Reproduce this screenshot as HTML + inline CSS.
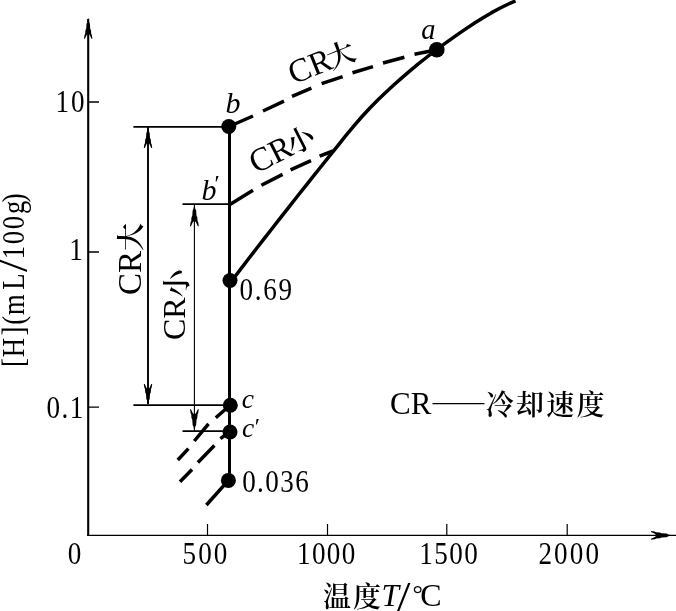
<!DOCTYPE html>
<html lang="zh">
<head>
<meta charset="utf-8">
<title>CR 冷却速度</title>
<style>
html,body{margin:0;padding:0;background:#fff;}
body{width:676px;height:611px;overflow:hidden;}
svg{display:block;}
text{font-family:"Liberation Serif","Noto Serif CJK SC",serif;fill:#000;}
.it{font-style:italic;}
.cj{font-family:"Noto Serif CJK SC","Liberation Serif",serif;font-size:28px;font-weight:600;}
</style>
</head>
<body>
<svg width="676" height="611" viewBox="0 0 676 611">
<rect width="676" height="611" fill="#fff"/>
<g stroke="#000" fill="none" stroke-linecap="butt" stroke-linejoin="miter">
  <!-- axes -->
  <path d="M88.2 19V536" stroke-width="2.1"/>
  <path d="M87.2 535.4H676" stroke-width="1.3"/>
  <!-- y ticks -->
  <path d="M88 102H99M88 252H99M88 407.1H99" stroke-width="1.4"/>
  <!-- x ticks -->
  <path d="M207.5 535V524M327.5 535V524M446.8 535V524M567.2 535V524" stroke-width="1.2"/>
  <!-- vertical line -->
  <path d="M229.5 126V481" stroke-width="3"/>
  <!-- horizontals -->
  <path d="M133.4 126.8H229M182.5 204.1H229M133.4 405.1H229M182.5 431.2H229" stroke-width="1.7"/>
  <!-- dimension lines -->
  <path d="M148 127V404" stroke-width="1.9"/>
  <path d="M194.4 204V431" stroke-width="1.1"/>
  <!-- solid curve -->
  <path d="M232.0 280.5 L240.1 269.9 L248.2 259.3 L256.3 248.8 L264.4 238.4 L272.5 228.0 L280.6 217.6 L288.7 207.3 L296.8 197.0 L304.9 186.8 L313.0 176.6 L321.1 166.5 L329.2 156.4 L337.3 146.3 L345.4 136.2 L353.5 126.4 L361.6 117.0 L369.7 108.2 L377.8 100.0 L385.9 92.3 L394.0 84.8 L402.1 77.6 L410.2 70.7 L418.3 63.9 L426.4 57.5 L434.5 51.2 L442.6 45.1 L450.7 39.3 L458.8 33.6 L466.9 28.1 L475.0 22.8 L483.1 17.7 L491.2 12.9 L499.3 8.5 L507.4 4.5 L515.5 0.9" stroke-width="3.5" stroke-linejoin="round"/>
  <g stroke-width="3.5">
  <!-- dashed CR big -->
  <path d="M229 126.5L253 116M263 111L284 101.2M292 96.4L311.4 88.2M321.6 83.6L342.6 76.6M352.5 72.8L373 66.6M383 63L404.4 57.2M414.5 54.2L437 49.7"/>
  <!-- dashed CR small -->
  <path d="M229.5 204.8L253 190.3M261.4 185.2L282.6 174.4M290.6 169.8L311 160.6M319.6 156.2L333 151"/>
  <!-- lower dashes -->
  <path d="M230 405.2L215.8 417.8M208.5 423.8L194.3 441M188.4 448.6L177.8 460"/>
  <path d="M229.5 432L220.4 438.6M214.4 445.6L197.9 462.4M192 469.5L180 481.8"/>
  <path d="M228.4 480.4L206.4 505"/>
  </g>
</g>
<g fill="#000">
  <!-- arrowheads -->
  <path transform="translate(88.20 17.80) rotate(0)" d="M0.00 0.00 L0.90 4.50 L1.70 6.00 L2.00 11.00 L2.80 12.50 L3.00 16.00 L3.70 17.50 L4.20 21.00 L3.30 21.00 L1.30 16.80 L0.00 16.50 L-1.30 16.80 L-3.30 21.00 L-4.20 21.00 L-3.70 17.50 L-3.00 16.00 L-2.80 12.50 L-2.00 11.00 L-1.70 6.00 L-0.90 4.50Z"/>
  <path transform="translate(673.00 535.40) rotate(90)" d="M0.00 0.00 L0.94 4.71 L1.78 6.29 L2.10 11.52 L2.93 13.10 L3.14 16.76 L3.88 18.33 L4.40 22.00 L3.46 22.00 L1.36 17.60 L0.00 17.29 L-1.36 17.60 L-3.46 22.00 L-4.40 22.00 L-3.88 18.33 L-3.14 16.76 L-2.93 13.10 L-2.10 11.52 L-1.78 6.29 L-0.94 4.71Z"/>
  <path transform="translate(148.00 126.90) rotate(0)" d="M0.00 0.00 L0.90 4.50 L1.70 6.00 L2.00 11.00 L2.80 12.50 L3.00 16.00 L3.70 17.50 L4.20 21.00 L3.30 21.00 L1.30 16.80 L0.00 16.50 L-1.30 16.80 L-3.30 21.00 L-4.20 21.00 L-3.70 17.50 L-3.00 16.00 L-2.80 12.50 L-2.00 11.00 L-1.70 6.00 L-0.90 4.50Z"/>
  <path transform="translate(148.00 405.10) rotate(180)" d="M0.00 0.00 L0.90 4.50 L1.70 6.00 L2.00 11.00 L2.80 12.50 L3.00 16.00 L3.70 17.50 L4.20 21.00 L3.30 21.00 L1.30 16.80 L0.00 16.50 L-1.30 16.80 L-3.30 21.00 L-4.20 21.00 L-3.70 17.50 L-3.00 16.00 L-2.80 12.50 L-2.00 11.00 L-1.70 6.00 L-0.90 4.50Z"/>
  <path transform="translate(194.40 204.20) rotate(0)" d="M0.00 0.00 L0.94 4.71 L1.78 6.29 L2.10 11.52 L2.93 13.10 L3.14 16.76 L3.88 18.33 L4.40 22.00 L3.46 22.00 L1.36 17.60 L0.00 17.29 L-1.36 17.60 L-3.46 22.00 L-4.40 22.00 L-3.88 18.33 L-3.14 16.76 L-2.93 13.10 L-2.10 11.52 L-1.78 6.29 L-0.94 4.71Z"/>
  <path transform="translate(194.40 431.20) rotate(180)" d="M0.00 0.00 L0.94 4.71 L1.78 6.29 L2.10 11.52 L2.93 13.10 L3.14 16.76 L3.88 18.33 L4.40 22.00 L3.46 22.00 L1.36 17.60 L0.00 17.29 L-1.36 17.60 L-3.46 22.00 L-4.40 22.00 L-3.88 18.33 L-3.14 16.76 L-2.93 13.10 L-2.10 11.52 L-1.78 6.29 L-0.94 4.71Z"/>
  <!-- points -->
  <circle cx="436.8" cy="49.7" r="7.8"/>
  <circle cx="228.8" cy="126.5" r="7.5"/>
  <circle cx="230" cy="280.5" r="7.5"/>
  <circle cx="230.3" cy="405.2" r="7.5"/>
  <circle cx="230" cy="432" r="7.5"/>
  <circle cx="228.4" cy="480.4" r="7.5"/>
</g>
<g font-size="30">
  <text transform="translate(55.42 112.30) scale(0.875 1)" font-size="31" letter-spacing="2.39">10</text>
  <text transform="translate(69.34 260.00) scale(0.875 1)" font-size="31">1</text>
  <text transform="translate(46.57 418.00) scale(0.875 1)" font-size="31" letter-spacing="1.57">0.1</text>
  <text transform="translate(67.67 563.70) scale(0.875 1)" font-size="31">0</text>
  <text transform="translate(182.42 563.70) scale(0.875 1)" font-size="31" letter-spacing="2.47">500</text>
  <text transform="translate(297.12 563.70) scale(0.875 1)" font-size="31" letter-spacing="1.47">1000</text>
  <text transform="translate(419.22 563.70) scale(0.875 1)" font-size="31" letter-spacing="1.70">1500</text>
  <text transform="translate(538.41 563.70) scale(0.875 1)" font-size="31" letter-spacing="2.43">2000</text>
  <text transform="translate(239.47 299.50) scale(0.875 1)" font-size="31" letter-spacing="1.97">0.69</text>
  <text transform="translate(242.17 491.70) scale(0.875 1)" font-size="31" letter-spacing="1.60">0.036</text>
  <text class="it" x="225.5" y="113">b</text>
  <text class="it" x="421.3" y="39" font-size="28.5">a</text>
  <text class="it" x="201.5" y="199.5">b<tspan font-size="24" dx="-3.5" dy="-9">′</tspan></text>
  <text class="it" x="241.8" y="408" font-size="27.5">c</text>
  <text class="it" x="242" y="436.5" font-size="27.5">c<tspan font-size="24" dx="-1" dy="-3">′</tspan></text>
  <g transform="translate(24.1 365) rotate(-90)"><text transform="scale(0.86 1)" font-size="31"><tspan x="-2.26">[</tspan><tspan x="9.05">H</tspan><tspan x="34.38">]</tspan><tspan x="46.81">(</tspan><tspan x="58.15">m</tspan><tspan x="87.47">L</tspan></text><text transform="translate(93.1 3.1) scale(1.09 1)" font-size="42">/</text><text transform="scale(0.86 1)" font-size="31"><tspan x="123.10">1</tspan><tspan x="140.51">0</tspan><tspan x="157.89">0</tspan><tspan x="175.66">g</tspan><tspan x="189.21">)</tspan></text></g>
  <text transform="translate(140.8 295) rotate(-90)" font-size="33">CR<tspan class="cj">大</tspan></text>
  <text transform="translate(185.3 340) rotate(-90)" font-size="32">CR<tspan class="cj" dy="2">小</tspan></text>
  <text transform="translate(293.5 84.5) rotate(-22)" font-size="33">CR<tspan class="cj" dx="-3">大</tspan></text>
  <text transform="translate(256 174) rotate(-27)" font-size="33">CR<tspan class="cj" dx="-3">小</tspan></text>
  <text x="390" y="414" font-size="31">CR<tspan class="cj" x="430.6" y="415" style="font-weight:400">——</tspan><tspan class="cj" letter-spacing="2.2" x="485.8" y="415">冷却速度</tspan></text>
  <text x="323" y="606.5"><tspan class="cj" letter-spacing="2">温度</tspan><tspan class="it" x="381.5" y="606.3" font-size="31.5">T</tspan></text>
  <text transform="translate(397 611) scale(1.15 1)" font-size="42">/</text>
  <text x="412.6" y="601.5" font-size="26">°<tspan x="420.2" y="606.2" font-size="32">C</tspan></text>
</g>
</svg>
</body>
</html>
